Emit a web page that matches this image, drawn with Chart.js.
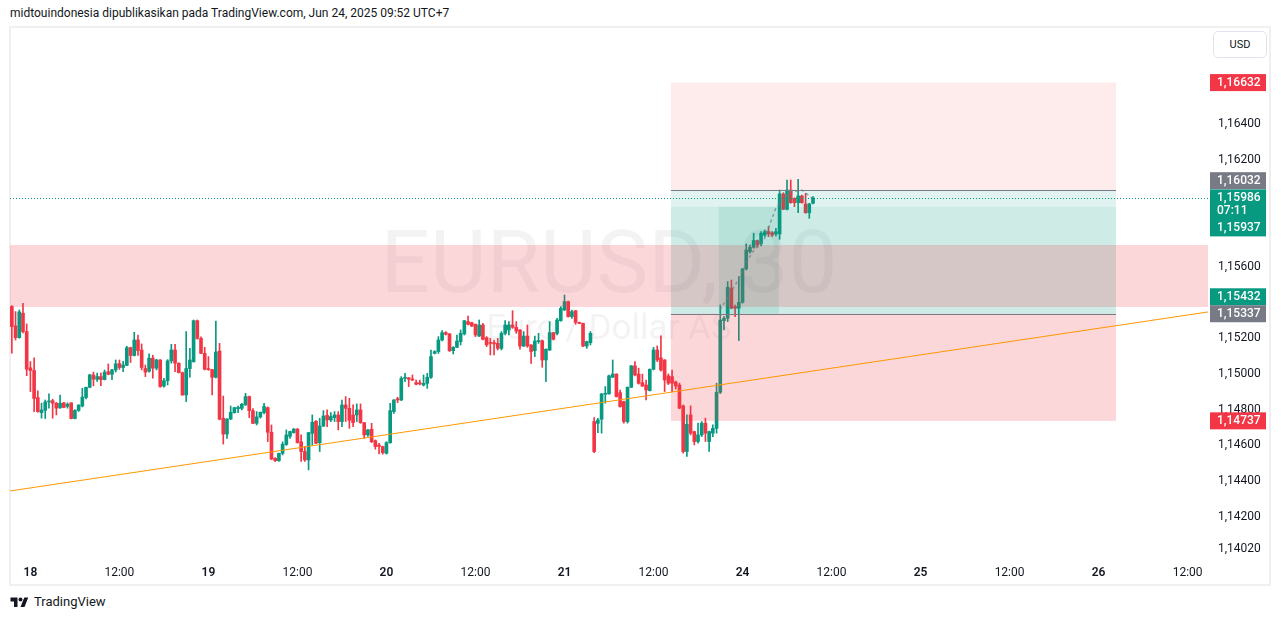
<!DOCTYPE html>
<html lang="id">
<head>
  <meta charset="UTF-8" />
  <title>EURUSD, 30</title>
  <script src="https://cdn.jsdelivr.net/npm/chart.js"></script>
  <style>
    body {
      margin: 0;
      background: #ffffff;
      font-family: Roboto, sans-serif;
      color: #131722;
    }
    .page {
      position: relative;
      width: 1281px;
      height: 620px;
      overflow: hidden;
    }
    .header {
      position: absolute;
      left: 10px;
      top: 6px;
      font-size: 12px;
      white-space: nowrap;
    }
    .frame {
      position: absolute;
      left: 9px;
      top: 26px;
      width: 1262px;
      height: 560px;
      border: 2px solid #f0f0f0;
      box-sizing: border-box;
    }
    #candles {
      position: absolute;
      left: 10px;
      top: 28px;
    }
    .usd {
      position: absolute;
      left: 1213px;
      top: 31px;
      width: 52px;
      height: 25px;
      border: 1px solid #e0e3eb;
      border-radius: 5px;
      font-size: 11px;
      line-height: 25px;
      text-align: center;
      background: #fff;
    }
    .footer {
      position: absolute;
      left: 10px;
      top: 594px;
      display: flex;
      align-items: center;
      gap: 5px;
      font-size: 13px;
    }
  </style>
</head>
<body>
<div class="page">
  <div class="header">midtouindonesia dipublikasikan pada TradingView.com, Jun 24, 2025 09:52 UTC+7</div>
  <div class="frame"></div>
  <canvas id="candles" width="1259" height="556"></canvas>
  <div class="usd">USD</div>
  <div class="footer">
    <svg width="19" height="12" viewBox="0 0 36 24">
      <path d="M14 22H7V11H0V3h14v19z" fill="#131722"/>
      <circle cx="20" cy="7" r="4" fill="#131722"/>
      <path d="M28 22h-8l7.5-19h8z" fill="#131722"/>
    </svg>
    <span>TradingView</span>
  </div>
</div>

<script>
  // EURUSD 30m candles, Jun 17 21:30 .. Jun 24 09:30 (UTC+7), one entry per bar slot
  const opens = [
    1.15377,1.15269,1.15203,1.15340,1.15237,1.15034,1.15019,1.14867,1.14783,1.14796,
    1.14843,1.14850,1.14836,1.14810,1.14838,1.14818,1.14838,1.14750,1.14795,1.14820,
    1.14868,1.14925,1.14994,1.14970,1.14985,1.14968,1.15012,1.14998,1.15022,1.15058,
    1.15036,1.15048,1.15147,1.15103,1.15190,1.15133,1.15030,1.15015,1.15088,1.15032,
    1.15078,1.14932,1.14962,1.15073,1.15134,1.15060,1.15007,1.14882,1.15030,1.15069,
    1.15298,1.15199,1.15115,1.15028,1.15024,1.14981,1.15128,1.14751,1.14663,1.14747,
    1.14783,1.14805,1.14807,1.14826,1.14873,1.14794,1.14723,1.14759,1.14783,1.14811,
    1.14673,1.14527,1.14514,1.14555,1.14604,1.14650,1.14671,1.14691,1.14620,1.14565,
    1.14518,1.14667,1.14735,1.14615,1.14708,1.14768,1.14742,1.14755,1.14770,1.14733,
    1.14826,1.14807,1.14770,1.14770,1.14798,1.14727,1.14658,1.14690,1.14626,1.14602,
    1.14593,1.14555,1.14615,1.14789,1.14861,1.14854,1.14975,1.14978,1.14970,1.14951,
    1.14950,1.14938,1.14947,1.14981,1.15115,1.15125,1.15190,1.15231,1.15224,1.15130,
    1.15149,1.15181,1.15224,1.15293,1.15287,1.15278,1.15212,1.15274,1.15203,1.15175,
    1.15175,1.15171,1.15143,1.15227,1.15246,1.15274,1.15261,1.15246,1.15156,1.15212,
    1.15162,1.15130,1.15181,1.15186,1.15078,1.15134,1.15231,1.15227,1.15298,1.15358,
    1.15405,1.15321,1.15354,1.15289,1.15283,1.15156,1.15175,1.14733,1.14723,1.14746,
    1.14886,1.14888,1.14981,1.14999,1.14895,1.14845,1.14733,1.14925,1.15045,1.14999,
    1.14951,1.14938,1.14906,1.15026,1.15134,1.15090,1.15078,1.14989,1.14985,1.14955,
    1.14938,1.14821,1.14565,1.14770,1.14677,1.14621,1.14658,1.14724,1.14621,1.14668,
    1.14695,1.14897,1.15298,1.15312,1.15480,1.15377,1.15368,1.15401,1.15588,1.15685,
    1.15709,1.15747,1.15728,1.15778,1.15797,1.15791,1.15784,1.15784,1.16008,1.15922,
    1.16030,1.15984,1.15959,1.15997,1.15952,1.15903,1.15956
  ];
  const highs = [
    1.15383,1.15349,1.15358,1.15396,1.15280,1.15069,1.15090,1.14905,1.14836,1.14854,
    1.14888,1.14858,1.14840,1.14882,1.14840,1.14838,1.14838,1.14800,1.14828,1.14920,
    1.14926,1.14998,1.15010,1.15005,1.15004,1.15022,1.15056,1.15025,1.15078,1.15078,
    1.15070,1.15154,1.15150,1.15233,1.15218,1.15168,1.15050,1.15112,1.15105,1.15082,
    1.15080,1.14975,1.15080,1.15166,1.15166,1.15062,1.15010,1.15237,1.15143,1.15302,
    1.15302,1.15208,1.15149,1.15097,1.15026,1.15296,1.15171,1.14876,1.14750,1.14820,
    1.14813,1.14820,1.14835,1.14891,1.14876,1.14805,1.14789,1.14787,1.14835,1.14815,
    1.14714,1.14531,1.14557,1.14619,1.14686,1.14680,1.14694,1.14694,1.14658,1.14593,
    1.14673,1.14770,1.14738,1.14751,1.14794,1.14798,1.14783,1.14789,1.14789,1.14854,
    1.14873,1.14863,1.14826,1.14832,1.14832,1.14727,1.14690,1.14723,1.14630,1.14611,
    1.14595,1.14620,1.14835,1.14856,1.14869,1.14985,1.15003,1.14980,1.14994,1.14966,
    1.14966,1.14994,1.15003,1.15134,1.15130,1.15209,1.15242,1.15237,1.15227,1.15153,
    1.15218,1.15246,1.15300,1.15324,1.15290,1.15280,1.15302,1.15283,1.15209,1.15199,
    1.15190,1.15199,1.15237,1.15298,1.15293,1.15354,1.15293,1.15248,1.15237,1.15274,
    1.15164,1.15212,1.15227,1.15190,1.15140,1.15293,1.15233,1.15311,1.15377,1.15442,
    1.15408,1.15358,1.15356,1.15290,1.15285,1.15183,1.15237,1.14755,1.14751,1.14890,
    1.14929,1.14994,1.15078,1.15001,1.14910,1.14848,1.14927,1.15047,1.15069,1.15032,
    1.14999,1.14966,1.15028,1.15149,1.15157,1.15213,1.15080,1.15000,1.15022,1.14960,
    1.14948,1.14826,1.14770,1.14821,1.14679,1.14724,1.14733,1.14752,1.14679,1.14714,
    1.14948,1.15386,1.15321,1.15517,1.15526,1.15386,1.15545,1.15590,1.15728,1.15722,
    1.15788,1.15750,1.15797,1.15806,1.15825,1.15797,1.15816,1.16030,1.16015,1.16086,
    1.16086,1.15986,1.16090,1.16002,1.16012,1.15956,1.15993
  ];
  const lows = [
    1.15116,1.15190,1.15200,1.15230,1.14990,1.14901,1.14789,1.14785,1.14752,1.14750,
    1.14808,1.14752,1.14770,1.14806,1.14810,1.14808,1.14748,1.14748,1.14790,1.14815,
    1.14860,1.14922,1.14933,1.14958,1.14934,1.14966,1.14995,1.14968,1.15010,1.15025,
    1.15012,1.15046,1.15064,1.15100,1.15103,1.15022,1.14985,1.15010,1.14976,1.15022,
    1.14925,1.14925,1.14938,1.15060,1.15013,1.15005,1.14880,1.14845,1.14981,1.15065,
    1.15194,1.15113,1.15022,1.15020,1.14882,1.14978,1.14743,1.14607,1.14639,1.14744,
    1.14780,1.14783,1.14798,1.14824,1.14755,1.14721,1.14714,1.14752,1.14776,1.14621,
    1.14520,1.14509,1.14509,1.14546,1.14600,1.14639,1.14668,1.14612,1.14509,1.14509,
    1.14462,1.14602,1.14609,1.14565,1.14705,1.14705,1.14733,1.14733,1.14686,1.14705,
    1.14733,1.14695,1.14705,1.14733,1.14723,1.14639,1.14650,1.14615,1.14578,1.14551,
    1.14550,1.14551,1.14611,1.14779,1.14839,1.14850,1.14957,1.14929,1.14962,1.14938,
    1.14938,1.14932,1.14919,1.14975,1.15112,1.15115,1.15185,1.15218,1.15125,1.15112,
    1.15147,1.15162,1.15218,1.15274,1.15265,1.15209,1.15209,1.15190,1.15153,1.15106,
    1.15106,1.15134,1.15134,1.15218,1.15218,1.15255,1.15227,1.15138,1.15153,1.15149,
    1.15059,1.15097,1.15171,1.15037,1.14957,1.15130,1.15190,1.15218,1.15295,1.15355,
    1.15318,1.15311,1.15278,1.15281,1.15153,1.15143,1.15162,1.14559,1.14671,1.14668,
    1.14836,1.14886,1.14980,1.14870,1.14813,1.14724,1.14724,1.14923,1.14988,1.14943,
    1.14929,1.14854,1.14904,1.15022,1.15069,1.15015,1.14901,1.14940,1.14901,1.14915,
    1.14805,1.14556,1.14537,1.14658,1.14602,1.14612,1.14649,1.14621,1.14565,1.14649,
    1.14668,1.14890,1.15246,1.15293,1.15365,1.15321,1.15187,1.15396,1.15582,1.15676,
    1.15704,1.15709,1.15717,1.15769,1.15769,1.15769,1.15773,1.15754,1.15920,1.15918,
    1.15956,1.15937,1.15903,1.15956,1.15900,1.15872,1.15952
  ];
  const closes = [
    1.15265,1.15203,1.15347,1.15237,1.15026,1.15019,1.14862,1.14789,1.14798,1.14843,
    1.14848,1.14836,1.14808,1.14836,1.14812,1.14830,1.14750,1.14795,1.14825,1.14870,
    1.14925,1.14994,1.14970,1.14985,1.14968,1.15010,1.14998,1.15022,1.15056,1.15036,
    1.15050,1.15147,1.15103,1.15190,1.15131,1.15036,1.15010,1.15088,1.15032,1.15078,
    1.14929,1.14962,1.15073,1.15134,1.15060,1.15007,1.14882,1.15030,1.15078,1.15298,
    1.15199,1.15115,1.15026,1.15024,1.14981,1.15123,1.14746,1.14663,1.14747,1.14785,
    1.14811,1.14812,1.14830,1.14873,1.14794,1.14723,1.14759,1.14785,1.14817,1.14673,
    1.14523,1.14514,1.14555,1.14606,1.14658,1.14677,1.14691,1.14615,1.14565,1.14518,
    1.14671,1.14729,1.14611,1.14708,1.14764,1.14742,1.14761,1.14770,1.14733,1.14826,
    1.14807,1.14740,1.14727,1.14798,1.14727,1.14658,1.14686,1.14620,1.14593,1.14593,
    1.14559,1.14615,1.14794,1.14854,1.14854,1.14975,1.14981,1.14970,1.14966,1.14942,
    1.14944,1.14947,1.14981,1.15097,1.15125,1.15190,1.15231,1.15222,1.15130,1.15149,
    1.15184,1.15227,1.15298,1.15278,1.15268,1.15218,1.15274,1.15194,1.15162,1.15171,
    1.15168,1.15143,1.15227,1.15274,1.15274,1.15261,1.15240,1.15156,1.15212,1.15156,
    1.15125,1.15184,1.15184,1.15078,1.15138,1.15231,1.15194,1.15302,1.15367,1.15405,
    1.15321,1.15349,1.15289,1.15283,1.15156,1.15181,1.15227,1.14565,1.14742,1.14888,
    1.14890,1.14989,1.14999,1.14873,1.14817,1.14733,1.14925,1.15045,1.14994,1.14947,
    1.14932,1.14910,1.15026,1.15134,1.15078,1.15022,1.14966,1.14948,1.14948,1.14932,
    1.14808,1.14565,1.14718,1.14668,1.14621,1.14658,1.14724,1.14668,1.14677,1.14695,
    1.14897,1.15302,1.15312,1.15485,1.15368,1.15368,1.15401,1.15588,1.15694,1.15709,
    1.15747,1.15722,1.15788,1.15797,1.15784,1.15778,1.15797,1.16008,1.15922,1.16030,
    1.15959,1.15959,1.15997,1.15959,1.15903,1.15952,1.15986
  ];

  // time axis: 323 bar slots (incl. empty future space), labelled slots
  const slotCount = 323;
  const tickSlots = [5, 29, 53, 77, 101, 125, 149, 173, 197, 221, 245, 269, 293, 317];
  const tickTexts = ['18', '12:00', '19', '12:00', '20', '12:00', '21', '12:00', '24', '12:00', '25', '12:00', '26', '12:00'];

  // price axis
  const priceTicks = [1.164, 1.162, 1.156, 1.152, 1.150, 1.148, 1.146, 1.144, 1.142, 1.1402];
  const priceMin = 1.139854;
  const priceMax = 1.169378;

  // drawings (slot, price)
  const zoneTop = 1.15722, zoneBottom = 1.15375;
  const posFrom = 177.7, posTo = 297.7;
  const posStop = 1.16632, posEntryHigh = 1.16032, posMid = 1.15937, posEntryLow = 1.15337, posStopLow = 1.14737;
  const hitFrom = 190.6, hitTo = 206.8;
  const trendSlots = [-0.5, 322.5];
  const trendPrices = [1.14344, 1.15347];
  const pathSlots = [190.9, 195.5, 199.5, 202.8, 206.0, 209.8, 213.0, 215.7];
  const pathPrices = [1.15358, 1.15515, 1.15678, 1.15750, 1.15930, 1.16019, 1.16030, 1.15986];
  const lastPrice = 1.15986;

  const UP = '#089981', DOWN = '#f23645', GREY = '#787b86';

  const slotLabels = Array(slotCount).fill('');
  tickSlots.forEach((s, k) => slotLabels[s] = tickTexts[k]);

  const fmt = v => v.toFixed(5).replace('.', ',');
  const candleColors = opens.map((o, i) => closes[i] >= o ? UP : DOWN);
  const wicks = opens.map((o, i) => [lows[i], highs[i]]);
  const bodies = opens.map((o, i) => [Math.min(o, closes[i]), Math.max(o, closes[i])]);

  // price tags on the right axis
  const priceTags = [
    { v: posStop, dy: 0, color: DOWN, lines: [fmt(posStop)] },
    { v: posEntryHigh, dy: -9, color: GREY, lines: [fmt(posEntryHigh)] },
    { v: lastPrice, dy: 0, color: UP, lines: [fmt(lastPrice), '07:11', fmt(posMid)] },
    { v: 1.15432, dy: 0, color: UP, lines: [fmt(1.15432)] },
    { v: posEntryLow, dy: 0, color: GREY, lines: [fmt(posEntryLow)] },
    { v: posStopLow, dy: 0, color: DOWN, lines: [fmt(posStopLow)] }
  ];

  function sx(chart, s) {
    const x = chart.scales.x;
    const a = x.getPixelForValue(0), b = x.getPixelForValue(1);
    return a + s * (b - a);
  }
  function py(chart, v) {
    return chart.scales.y.getPixelForValue(v);
  }
  function rect(chart, s0, s1, v0, v1, color) {
    const ctx = chart.ctx;
    const x0 = sx(chart, s0), x1 = sx(chart, s1);
    const y0 = py(chart, v0), y1 = py(chart, v1);
    ctx.fillStyle = color;
    ctx.fillRect(x0, Math.min(y0, y1), x1 - x0, Math.abs(y1 - y0));
  }

  const drawings = {
    id: 'drawings',
    beforeDatasetsDraw(chart) {
      const { ctx, chartArea: a } = chart;
      ctx.save();
      ctx.fillStyle = 'rgba(19,23,34,0.05)';
      ctx.textAlign = 'center';
      ctx.textBaseline = 'middle';
      ctx.font = '87px Roboto';
      ctx.fillText('EURUSD, 30', a.left + a.width / 2, a.top + 242);
      ctx.font = '35px Roboto';
      ctx.fillText('Euro / Dollar AS', a.left + a.width / 2, a.top + 302);
      ctx.restore();
    },
    afterDatasetsDraw(chart) {
      const { ctx, chartArea: a } = chart;
      ctx.save();
      ctx.beginPath();
      ctx.rect(a.left, a.top, a.width, a.height);
      ctx.clip();

      // position tool
      rect(chart, posFrom, posTo, posStop, posEntryHigh, 'rgba(242,54,69,0.1)');
      rect(chart, posFrom, posTo, posEntryHigh, posMid, 'rgba(8,153,129,0.12)');
      rect(chart, posFrom, posTo, posMid, posEntryLow, 'rgba(8,153,129,0.2)');
      rect(chart, hitFrom, hitTo, posMid, posEntryLow, 'rgba(8,153,129,0.12)');
      rect(chart, posFrom, posTo, posEntryLow, posStopLow, 'rgba(242,54,69,0.2)');

      // horizontal zone
      rect(chart, -0.5, slotCount - 0.5, zoneTop, zoneBottom, 'rgba(242,54,69,0.2)');

      ctx.lineWidth = 1;
      ctx.strokeStyle = GREY;
      [posEntryHigh, posEntryLow].forEach(v => {
        const y = Math.round(py(chart, v)) + 0.5;
        ctx.beginPath();
        ctx.moveTo(sx(chart, posFrom), y);
        ctx.lineTo(sx(chart, posTo), y);
        ctx.stroke();
      });

      // projected path
      ctx.strokeStyle = 'rgba(120,123,134,0.7)';
      ctx.lineWidth = 1.5;
      ctx.setLineDash([3, 3]);
      ctx.beginPath();
      pathSlots.forEach((s, i) => {
        const x = sx(chart, s), y = py(chart, pathPrices[i]);
        if (i === 0) ctx.moveTo(x, y); else ctx.lineTo(x, y);
      });
      ctx.stroke();

      // last price line
      ctx.strokeStyle = UP;
      ctx.lineWidth = 1;
      ctx.setLineDash([1, 2]);
      const ly = Math.round(py(chart, lastPrice)) + 0.5;
      ctx.beginPath();
      ctx.moveTo(a.left, ly);
      ctx.lineTo(a.right, ly);
      ctx.stroke();
      ctx.setLineDash([]);

      // trend line
      ctx.strokeStyle = '#ff9800';
      ctx.lineWidth = 1;
      ctx.beginPath();
      ctx.moveTo(sx(chart, trendSlots[0]), py(chart, trendPrices[0]));
      ctx.lineTo(sx(chart, trendSlots[1]), py(chart, trendPrices[1]));
      ctx.stroke();

      ctx.restore();
    },
    afterDraw(chart) {
      const { ctx, chartArea: a } = chart;
      ctx.save();
      ctx.font = '500 12px Roboto';
      ctx.textBaseline = 'middle';
      ctx.textAlign = 'left';
      const x0 = a.right + 2;
      priceTags.forEach(t => {
        const yc = py(chart, t.v) + t.dy;
        const offs = t.lines.length === 1 ? [0] : [0, 13, 30];
        const top = yc - 8.5;
        const h = offs[offs.length - 1] + 17;
        ctx.fillStyle = t.color;
        ctx.fillRect(x0, top, 56, h);
        ctx.fillStyle = '#ffffff';
        t.lines.forEach((txt, i) => ctx.fillText(txt, x0 + 7, yc + offs[i] + 0.5));
      });
      ctx.restore();
    }
  };

  new Chart(document.getElementById('candles'), {
    type: 'bar',
    data: {
      labels: slotLabels,
      datasets: [
        {
          data: wicks,
          backgroundColor: candleColors,
          barThickness: 1,
          grouped: false,
          order: 2
        },
        {
          data: bodies,
          backgroundColor: candleColors,
          barThickness: 3,
          minBarLength: 1,
          grouped: false,
          order: 1
        }
      ]
    },
    options: {
      responsive: false,
      animation: false,
      events: [],
      layout: { padding: 0 },
      plugins: {
        legend: { display: false },
        tooltip: { enabled: false }
      },
      scales: {
        x: {
          offset: true,
          grid: { display: false, drawTicks: false },
          border: { display: false },
          ticks: {
            autoSkip: false,
            maxRotation: 0,
            padding: 11,
            color: '#131722',
            font: c => ({
              family: 'Roboto',
              size: 12,
              weight: c.tick && c.tick.label && c.tick.label.indexOf(':') < 0 ? '600' : '400'
            }),
            callback: (v, i) => slotLabels[i]
          },
          afterFit(s) {
            s.height = 29;
            s.paddingLeft = 0;
            s.paddingRight = 0;
          }
        },
        y: {
          position: 'right',
          min: priceMin,
          max: priceMax,
          grid: { display: false, drawTicks: false },
          border: { display: false },
          ticks: {
            padding: 10,
            color: '#131722',
            font: { family: 'Roboto', size: 12 },
            callback: v => fmt(v)
          },
          afterBuildTicks(s) {
            s.ticks = priceTicks.map(v => ({ value: v }));
          },
          afterFit(s) {
            s.width = 61;
            s.paddingTop = 0;
            s.paddingBottom = 0;
          }
        }
      }
    },
    plugins: [drawings]
  });
</script>
</body>
</html>
